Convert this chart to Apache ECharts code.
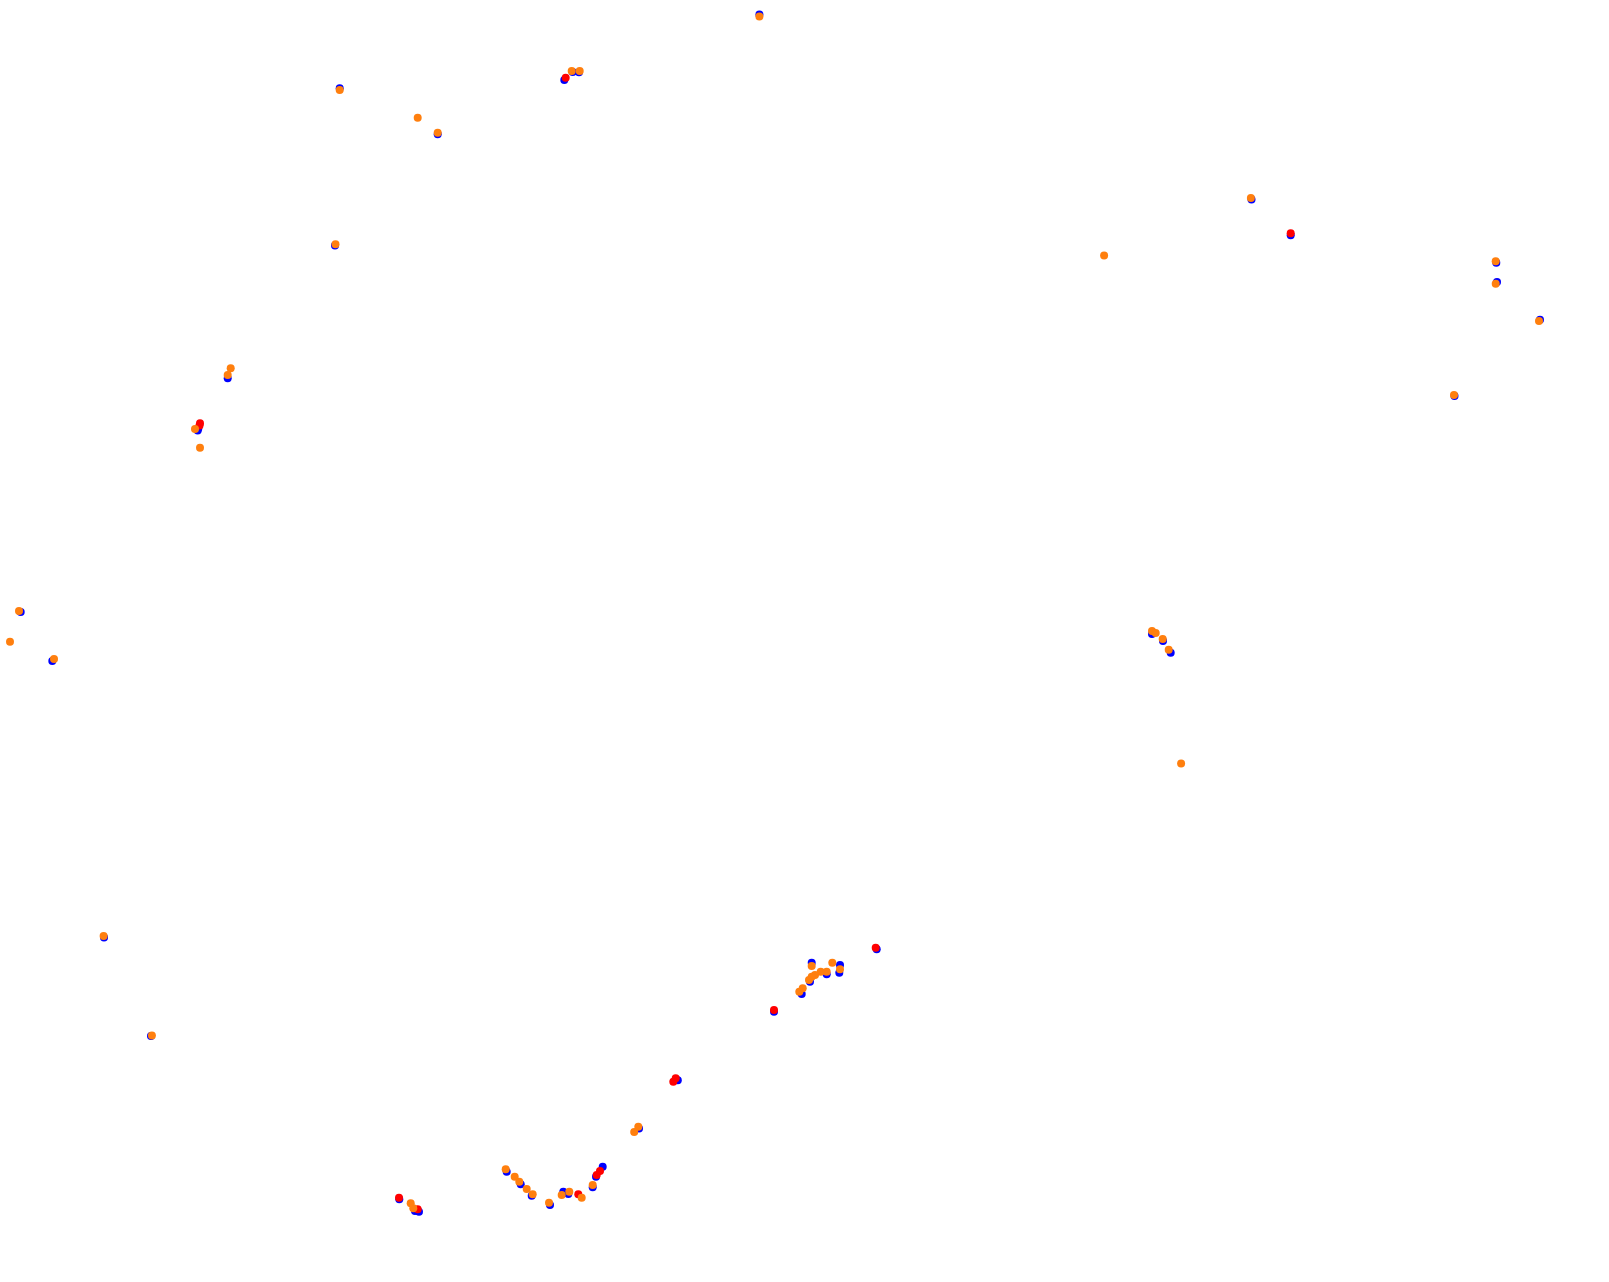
<!DOCTYPE html>
<html><head><meta charset="utf-8">
<script src="https://cdn.jsdelivr.net/npm/echarts@6/dist/echarts.min.js"></script>
<style>html,body{margin:0;padding:0;background:#fff}#c{width:1609px;height:1282px}</style>
</head><body><div id="c"></div>
<script>
// Data: [x, y] positions (y grows downward)
const blue = [
  [759.4,14.4],[339.7,88.3],[437.7,134.3],[564.3,80],[572.7,72],[579,72.3],
  [1251.5,199.5],[1290.7,235.3],[1496.3,262.7],[1497,282],[1540,319.8],[1454.5,396],
  [335,245.5],[227.7,378.3],[198.3,428.5],[197.7,430.5],[20.7,612],[52.3,661],
  [1152,634],[1163,641],[1170.7,652.7],[104,937.5],[151,1036],
  [876.7,949.3],[811.7,962.7],[840,965],[839.3,972.7],[826.7,974.3],[810,981.7],[801.7,994],[774,1011.7],
  [677.8,1080.2],[639,1128.5],
  [399.3,1199.3],[419,1211.7],[415,1211],[506.7,1171.7],[520.7,1184.3],[531.7,1195.7],[550,1205],
  [563.3,1191.7],[568.3,1194],[592.7,1187.3],[602.7,1166.7],[596,1176.7]
];
const red = [
  [565.7,77.7],[1290.7,233.3],[200,423.3],[199.5,425.5],[875.7,947.7],[774,1010],
  [675.7,1078.3],[673.3,1081.7],[399,1197.7],[417.7,1209.3],[578.3,1194.3],
  [596.7,1175],[600,1171]
];
const orange = [
  [759.4,16.4],[339.7,90],[417.7,117.7],[437.7,132.7],[571.7,71],[579.7,71],
  [1250.9,198],[1104.1,255.5],[1495.7,261.3],[1495.7,283.7],[1539,321],[1454,395],
  [335.5,244.2],[230.7,368.3],[227.7,375],[195,429],[200,447.7],
  [19,611],[10,641.7],[54,659],
  [1152,631],[1155.7,633],[1162.7,639],[1168.7,649.7],[1181.1,763.5],
  [103.6,935.9],[151.9,1035.4],
  [811.7,966],[832.3,962.7],[840,969.3],[826.7,971.7],[820.7,971.7],[815,975],[811.7,976.7],[809,980],[802.7,988.3],[799.3,991.7],
  [638.3,1126.7],[634.2,1131.9],
  [410.7,1203.3],[413.3,1208.3],[505.7,1169.3],[514.7,1176.7],[519.3,1181.7],[526.7,1189],[532.7,1194.3],
  [549,1202.7],[561.7,1195],[569.3,1191.7],[581.7,1197.7],[592.7,1185]
];
const chart = echarts.init(document.getElementById('c'));
const mk = (d, c) => ({type:'scatter', data:d, symbolSize:8, itemStyle:{color:c, opacity:1}, silent:true, animation:false});
chart.setOption({
  animation:false,
  grid:{left:0,right:0,top:0,bottom:0},
  xAxis:{type:'value',min:0,max:1609,show:false},
  yAxis:{type:'value',min:0,max:1282,inverse:true,show:false},
  series:[mk(blue,'#0000ff'), mk(red,'#ff0000'), mk(orange,'#ff7f0e')]
});
</script></body></html>
